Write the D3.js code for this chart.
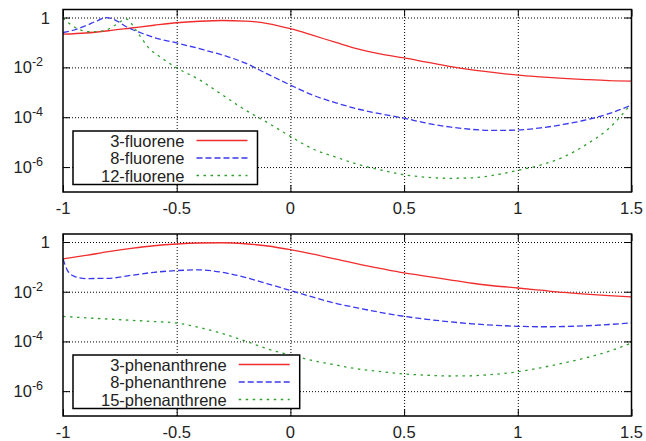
<!DOCTYPE html>
<html>
<head>
<meta charset="utf-8">
<script src="https://cdn.jsdelivr.net/npm/d3@7"></script>
<style>
  body { margin: 0; background: #fff; }
  svg { font-family: "Liberation Sans", Arial, sans-serif; display: block; }
</style>
</head>
<body>
<div id="chart"></div>
<script>
// ---- data ----
const xGrid = [-1, -0.9, -0.8, -0.7, -0.6, -0.5, -0.4, -0.3, -0.2, -0.1, 0,
  0.1, 0.2, 0.3, 0.4, 0.5, 0.6, 0.7, 0.8, 0.9, 1, 1.1, 1.2, 1.3, 1.4, 1.5];

// top panel: fluorene
const fluorene3 = [0.214, 0.240, 0.295, 0.380, 0.490, 0.617, 0.708, 0.759, 0.724, 0.575, 0.355,
  0.191, 0.100, 0.0537, 0.0339, 0.0240, 0.0162, 0.0110, 0.00794, 0.00617, 0.00490,
  0.00417, 0.00363, 0.00324, 0.00295, 0.00282];

const fluorene8X = [-1, -0.95, -0.9, -0.85, -0.81, -0.77, -0.72, -0.65, -0.6, -0.5, -0.4, -0.3,
  -0.2, -0.1, 0, 0.1, 0.2, 0.3, 0.4, 0.5, 0.6, 0.7, 0.8, 0.9, 1, 1.1, 1.2, 1.3, 1.4, 1.5];
const fluorene8 = [0.251, 0.316, 0.468, 0.741, 1.0, 0.794, 0.417, 0.229, 0.158, 0.0955, 0.0562,
  0.0316, 0.0151, 0.00537, 0.00195, 7.59e-4, 3.80e-4, 2.09e-4, 1.35e-4, 9.12e-5, 5.75e-5,
  4.07e-5, 3.24e-5, 2.95e-5, 3.09e-5, 3.72e-5, 5.13e-5, 7.76e-5, 1.38e-4, 3.09e-4];

const fluorene12X = [-1, -0.95, -0.88, -0.82, -0.77, -0.72, -0.68, -0.62, -0.57, -0.5, -0.4, -0.3,
  -0.2, -0.1, 0, 0.1, 0.2, 0.3, 0.4, 0.5, 0.6, 0.7, 0.8, 0.9, 1, 1.1, 1.2, 1.3, 1.4, 1.5];
const fluorene12 = [0.955, 0.417, 0.269, 0.295, 0.501, 0.871, 0.316, 0.0562, 0.0251, 0.00955,
  0.00316, 7.94e-4, 2.0e-4, 6.03e-5, 1.70e-5, 5.25e-6, 2.51e-6, 1.26e-6, 7.59e-7, 4.90e-7,
  3.89e-7, 3.55e-7, 3.72e-7, 4.79e-7, 7.41e-7, 1.20e-6, 2.51e-6, 7.94e-6, 3.55e-5, 3.55e-4];

// bottom panel: phenanthrene
const phen3 = [0.209, 0.288, 0.407, 0.550, 0.708, 0.832, 0.912, 0.933, 0.851, 0.692, 0.490,
  0.324, 0.204, 0.129, 0.0851, 0.0575, 0.0417, 0.0302, 0.0219, 0.0170, 0.0141,
  0.0115, 0.00933, 0.00794, 0.00692, 0.00617];

const phen8X = [-1, -0.98, -0.95, -0.9, -0.8, -0.7, -0.6, -0.5, -0.4, -0.3, -0.2, -0.1, 0,
  0.1, 0.2, 0.3, 0.4, 0.5, 0.6, 0.7, 0.8, 0.9, 1, 1.1, 1.2, 1.3, 1.4, 1.5];
const phen8 = [0.209, 0.0708, 0.0417, 0.0339, 0.0347, 0.0457, 0.0603, 0.0708, 0.0759, 0.0603,
  0.0380, 0.0209, 0.0112, 0.00603, 0.00339, 0.00219, 0.00145, 0.00102, 7.76e-4, 6.17e-4,
  5.13e-4, 4.47e-4, 4.07e-4, 3.89e-4, 3.98e-4, 4.27e-4, 4.79e-4, 5.62e-4];

const phen15 = [1.02e-3, 8.91e-4, 7.94e-4, 7.08e-4, 6.31e-4, 5.50e-4, 3.63e-4, 2.09e-4, 1.05e-4,
  5.01e-5, 2.82e-5, 1.70e-5, 1.12e-5, 7.76e-6, 6.03e-6, 4.90e-6, 4.37e-6, 4.07e-6, 4.17e-6,
  4.79e-6, 6.03e-6, 8.71e-6, 1.35e-5, 2.19e-5, 3.98e-5, 8.71e-5];

const xTicks = [-1, -0.5, 0, 0.5, 1, 1.5];
const xTickLabels = ['-1', '-0.5', '0', '0.5', '1', '1.5'];
const yTicks = [1, 1e-2, 1e-4, 1e-6];
const yTickBase = ['1', '10', '10', '10'];
const yTickSup = ['', '-2', '-4', '-6'];

// ---- layout ----
const width = 646;
const height = 441;
const left = 63;
const right = 631.5;

const styles = {
  red: { color: '#f02c2c', dash: null },
  blue: { color: '#3838f0', dash: '6,3' },
  green: { color: '#2fa02f', dash: '2.5,4.5' }
};

const panels = [
  {
    top: 9.5, bottom: 192, legendTop: 131,
    series: [
      { name: '3-fluorene', x: xGrid, y: fluorene3, style: styles.red },
      { name: '8-fluorene', x: fluorene8X, y: fluorene8, style: styles.blue },
      { name: '12-fluorene', x: fluorene12X, y: fluorene12, style: styles.green }
    ]
  },
  {
    top: 234, bottom: 416, legendTop: 355,
    series: [
      { name: '3-phenanthrene', x: xGrid, y: phen3, style: styles.red },
      { name: '8-phenanthrene', x: phen8X, y: phen8, style: styles.blue },
      { name: '15-phenanthrene', x: xGrid, y: phen15, style: styles.green }
    ]
  }
];

const svg = d3.select('#chart').append('svg')
  .attr('width', width)
  .attr('height', height);

const xScale = d3.scaleLinear()
  .domain([-1, 1.5])
  .range([left, right]);

const drawLegend = (g, series, boxLeft, boxTop) => {
  const rowH = 17.5;
  const lg = g.append('g').attr('class', 'legend');
  const box = lg.append('rect')
    .attr('fill', '#fff')
    .attr('stroke', '#000')
    .attr('stroke-width', 1.5);

  const labels = lg.selectAll('text').data(series).join('text')
    .attr('font-size', 16.5)
    .attr('fill', '#222')
    .attr('text-anchor', 'end')
    .attr('y', (d, i) => boxTop + 9.5 + i * rowH + 6)
    .text(d => d.name);

  const maxW = d3.max(labels.nodes(), n => n.getComputedTextLength());
  const textRight = boxLeft + 28 + maxW;
  labels.attr('x', textRight);

  const sx0 = textRight + 12;
  const sx1 = sx0 + 51;
  lg.selectAll('line').data(series).join('line')
    .attr('x1', sx0)
    .attr('x2', sx1)
    .attr('y1', (d, i) => boxTop + 9.5 + i * rowH)
    .attr('y2', (d, i) => boxTop + 9.5 + i * rowH)
    .attr('stroke', d => d.style.color)
    .attr('stroke-width', 1.3)
    .attr('stroke-dasharray', d => d.style.dash);

  box.attr('x', boxLeft)
    .attr('y', boxTop)
    .attr('width', sx1 + 10 - boxLeft)
    .attr('height', rowH * 3 + 1);
};

panels.forEach((p, pi) => {
  const g = svg.append('g').attr('class', 'panel');
  const yScale = d3.scaleLog()
    .domain([1e-7, 2.1])
    .range([p.bottom, p.top]);
  const innerH = p.bottom - p.top;
  const innerW = right - left;

  // dotted grid
  const gridCfg = AxisG => {
    AxisG.selectAll('.domain').remove();
    AxisG.selectAll('line')
      .attr('stroke', '#000')
      .attr('stroke-width', 1)
      .attr('stroke-dasharray', '1,2');
  };
  g.append('g')
    .attr('transform', `translate(0, ${p.bottom})`)
    .call(d3.axisBottom(xScale).tickValues(xTicks.slice(1, -1)).tickSize(-innerH).tickFormat(''))
    .call(gridCfg);
  g.append('g')
    .attr('transform', `translate(${left}, 0)`)
    .call(d3.axisLeft(yScale).tickValues(yTicks).tickSize(-innerW).tickFormat(''))
    .call(gridCfg);

  // curves
  const clipId = `clip-${pi}`;
  svg.append('clipPath').attr('id', clipId)
    .append('rect')
    .attr('x', left).attr('y', p.top)
    .attr('width', innerW).attr('height', innerH);

  const line = d3.line()
    .x(d => xScale(d[0]))
    .y(d => yScale(d[1]))
    .curve(d3.curveMonotoneX);

  g.append('g').attr('clip-path', `url(#${clipId})`)
    .selectAll('path').data(p.series).join('path')
    .attr('d', s => line(d3.zip(s.x, s.y)))
    .attr('fill', 'none')
    .attr('stroke', s => s.style.color)
    .attr('stroke-width', 1.3)
    .attr('stroke-dasharray', s => s.style.dash);

  // inward ticks on all four sides
  const tickCfg = AxisG => {
    AxisG.selectAll('.domain').remove();
    AxisG.selectAll('line').attr('stroke', '#000').attr('stroke-width', 1);
  };
  g.append('g').attr('transform', `translate(0, ${p.bottom})`)
    .call(d3.axisBottom(xScale).tickValues(xTicks).tickSize(-7).tickFormat('')).call(tickCfg);
  g.append('g').attr('transform', `translate(0, ${p.top})`)
    .call(d3.axisTop(xScale).tickValues(xTicks).tickSize(-7).tickFormat('')).call(tickCfg);
  g.append('g').attr('transform', `translate(${left}, 0)`)
    .call(d3.axisLeft(yScale).tickValues(yTicks).tickSize(-7).tickFormat('')).call(tickCfg);
  g.append('g').attr('transform', `translate(${right}, 0)`)
    .call(d3.axisRight(yScale).tickValues(yTicks).tickSize(-7).tickFormat('')).call(tickCfg);

  // frame
  g.append('rect')
    .attr('x', left).attr('y', p.top)
    .attr('width', innerW).attr('height', innerH)
    .attr('fill', 'none')
    .attr('stroke', '#000')
    .attr('stroke-width', 1.5);

  // tick labels
  g.selectAll('.x-label').data(xTicks).join('text')
    .attr('class', 'x-label')
    .attr('x', d => xScale(d))
    .attr('y', p.bottom + 22)
    .attr('text-anchor', 'middle')
    .attr('font-size', 16.5)
    .attr('fill', '#222')
    .text((d, i) => xTickLabels[i]);

  const yLab = g.selectAll('.y-label').data(yTicks).join('text')
    .attr('class', 'y-label')
    .attr('x', (d, i) => yTickSup[i] ? 43 : 50)
    .attr('y', d => yScale(d) + 6)
    .attr('text-anchor', 'end')
    .attr('font-size', 16.5)
    .attr('fill', '#222');
  yLab.append('tspan').text((d, i) => yTickBase[i]);
  yLab.append('tspan')
    .attr('font-size', 12.5)
    .attr('dy', -7)
    .text((d, i) => yTickSup[i]);

  drawLegend(g, p.series, 73, p.legendTop);
});
</script>
</body>
</html>
